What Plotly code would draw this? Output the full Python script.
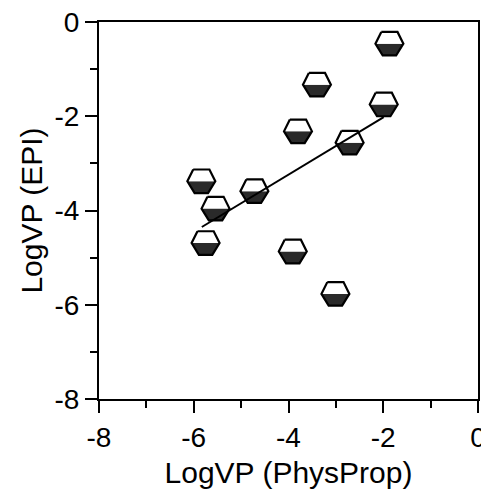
import plotly.graph_objects as go

# values
physprop = [-1.87, -3.40, -1.99, -3.80, -2.71, -5.84, -4.72, -5.54, -5.75, -3.91, -3.01]
epi = [-0.46, -1.33, -1.75, -2.32, -2.56, -3.38, -3.59, -3.96, -4.69, -4.87, -5.77]
fit_x = [-5.83, -1.99]
fit_y = [-4.35, -2.02]
tick_vals = [-8, -6, -4, -2, 0]
tick_text = ["-8", "-6", "-4", "-2", "0"]

# hexagon size in data units (about 28 x 23 px)
W, H = 0.295, 0.25
TOP, BOT = 0.58 * W, 0.48 * W


def polys(part):
    xs, ys = [], []
    for x, y in zip(physprop, epi):
        if part == "top":
            px = [x - TOP, x + TOP, x + W, x - W, x - TOP]
            py = [y + H, y + H, y, y, y + H]
        elif part == "bottom":
            px = [x - W, x + W, x + BOT, x - BOT, x - W]
            py = [y, y, y - H, y - H, y]
        else:
            px = [x - TOP, x + TOP, x + W, x + BOT, x - BOT, x - W, x - TOP]
            py = [y + H, y + H, y, y - H, y - H, y, y + H]
        xs += px + [None]
        ys += py + [None]
    return xs, ys


fig = go.Figure()

bx, by = polys("bottom")
fig.add_trace(go.Scatter(x=bx, y=by, mode="lines", fill="toself", fillcolor="#2a2a2a",
                         line=dict(width=0, color="#2a2a2a"), hoverinfo="skip"))
tx, ty = polys("top")
fig.add_trace(go.Scatter(x=tx, y=ty, mode="lines", fill="toself", fillcolor="white",
                         line=dict(width=0, color="white"), hoverinfo="skip"))
ox, oy = polys("outline")
fig.add_trace(go.Scatter(x=ox, y=oy, mode="lines", line=dict(width=2.2, color="black"),
                         hoverinfo="skip"))
fig.add_trace(go.Scatter(x=physprop, y=epi, mode="markers",
                         marker=dict(size=1, color="rgba(0,0,0,0)")))
fig.add_trace(go.Scatter(x=fit_x, y=fit_y, mode="lines", line=dict(width=2, color="black")))

axis = dict(
    range=[-8, 0], tickvals=tick_vals, ticktext=tick_text,
    showgrid=False, zeroline=False, automargin=False, ticklabeloverflow="allow",
    showline=True, linecolor="black", linewidth=2, mirror=True,
    ticks="outside", ticklen=12, tickwidth=1.5, tickcolor="black",
    minor=dict(dtick=1, ticks="outside", ticklen=7, tickwidth=1.5, tickcolor="black"),
    tickfont=dict(family="Liberation Sans, Arial", size=28, color="black"),
)

# the page body adds an 8px offset, margins are set so the box lands where it should
fig.update_layout(
    width=489, height=494,
    margin=dict(l=91, r=19, t=14, b=103),
    plot_bgcolor="white", paper_bgcolor="white",
    showlegend=False,
    font=dict(family="Liberation Sans, Arial", color="black"),
    xaxis=dict(axis, title=dict(text="LogVP (PhysProp)", font=dict(size=30), standoff=10)),
    yaxis=dict(axis, title=dict(text="LogVP (EPI)", font=dict(size=30), standoff=3)),
)

fig.write_html("out.html")
